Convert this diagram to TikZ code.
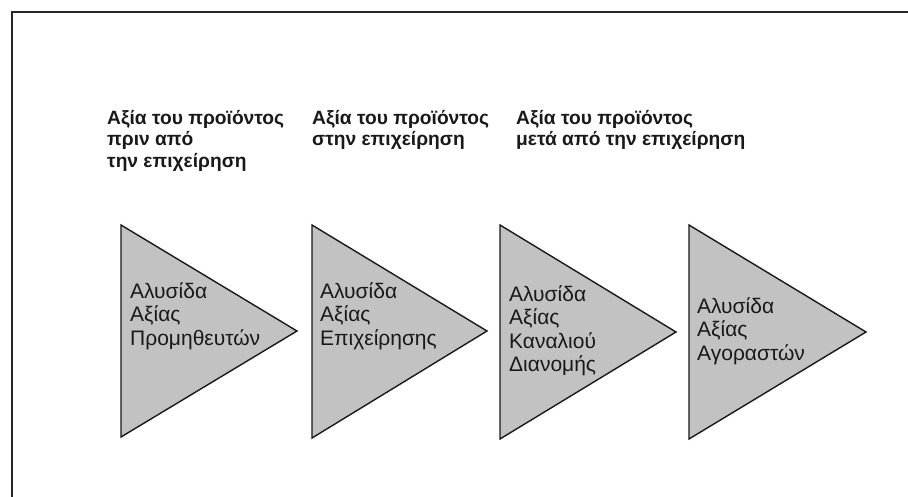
\documentclass[tikz,border=0pt]{standalone}
\usepackage{fontspec}
\setmainfont{Liberation Sans}
\begin{document}
\begin{tikzpicture}[x=1pt,y=-1pt,
  stage/.style={draw=black!90, line width=1.4pt, fill=black!24, line join=miter},
  stagetext/.style={anchor=north west, inner sep=0pt, align=left,
    font=\fontsize{21}{23.5}\selectfont, text=black!90},
  headtext/.style={anchor=north west, inner sep=0pt, align=left,
    font=\fontsize{19.2}{21.5}\selectfont\bfseries, text=black!90},
  frameline/.style={draw=black!85, line width=2pt}]
\useasboundingbox (0,0) rectangle (908,497);
\fill[white] (0,0) rectangle (908,497);
% outer frame (only its top and left sides fall inside the page)
\coordinate (fbl) at (12,520);
\coordinate (ftl) at (12,12);
\coordinate (ftr) at (930,12);
\draw[frameline] (fbl) -- (ftl) -- (ftr);
% the four value-chain stages
\draw[stage] (121,225) -- (297,331) -- (121,437) -- cycle;
\draw[stage] (312,225) -- (487,331) -- (312,438) -- cycle;
\draw[stage] (500,225) -- (676,332) -- (500,439) -- cycle;
\draw[stage] (689,225) -- (866,332) -- (689,439) -- cycle;
\node[stagetext] (s1) at (130,282) {Αλυσίδα\\Αξίας\\Προμηθευτών};
\node[stagetext] (s2) at (320,282) {Αλυσίδα\\Αξίας\\Επιχείρησης};
\node[stagetext] (s3) at (509,285) {Αλυσίδα\\Αξίας\\Καναλιού\\Διανομής};
\node[stagetext] (s4) at (697,297) {Αλυσίδα\\Αξίας\\Αγοραστών};
% headings above the stages
\node[headtext] (h1) at (107,110) {Αξία του προϊόντος\\πριν από\\την επιχείρηση};
\node[headtext] (h2) at (312,110) {Αξία του προϊόντος\\στην επιχείρηση};
\node[headtext] (h3) at (516,110) {Αξία του προϊόντος\\μετά από την επιχείρηση};
\end{tikzpicture}
\end{document}
